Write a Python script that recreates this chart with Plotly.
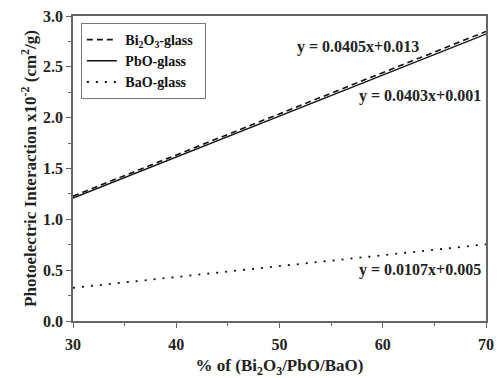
import plotly.graph_objects as go

x_vals = [30, 40, 50, 60, 70]
bi2o3 = [1.228, 1.633, 2.038, 2.443, 2.848]
pbo = [1.210, 1.613, 2.016, 2.419, 2.822]
bao = [0.326, 0.433, 0.540, 0.647, 0.754]
names = ["Bi<sub>2</sub>O<sub>3</sub>-glass", "PbO-glass", "BaO-glass"]
fits = ["y = 0.0405x+0.013", "y = 0.0403x+0.001", "y = 0.0107x+0.005"]

font = "Liberation Serif"
fig = go.Figure()
fig.add_trace(go.Scatter(x=x_vals, y=bi2o3, mode="lines", name=names[0],
                         line=dict(color="#111", width=1.6, dash="6px,4px")))
fig.add_trace(go.Scatter(x=x_vals, y=pbo, mode="lines", name=names[1],
                         line=dict(color="#111", width=1.4)))
fig.add_trace(go.Scatter(x=x_vals, y=bao, mode="lines", name=names[2],
                         line=dict(color="#111", width=1.8, dash="2px,7px")))

ann_pos = [(57.6, 2.70), (63.6, 2.21), (63.6, 0.50)]
for (ax, ay), t in zip(ann_pos, fits):
    fig.add_annotation(x=ax, y=ay, text="<b>%s</b>" % t, showarrow=False,
                       font=dict(family=font, size=16, color="#222"))

axis_common = dict(showline=True, linecolor="#666", linewidth=1.5, mirror=True,
                   ticks="outside", ticklen=5, tickcolor="#666", tickwidth=1.2,
                   showgrid=False, zeroline=False, automargin=False,
                   tickfont=dict(family=font, size=16, color="#222"),
                   minor=dict(ticks="outside", ticklen=3, tickcolor="#666"))
fig.update_xaxes(range=[30, 70], dtick=10, minor_dtick=5, ticklabelstandoff=3,
                 title=dict(text="<b>% of (Bi<sub>2</sub>O<sub>3</sub>/PbO/BaO)</b>",
                            font=dict(family=font, size=17, color="#222"), standoff=16),
                 tickprefix="<b>", ticksuffix="</b>", **axis_common)
fig.update_yaxes(range=[0, 3.0], dtick=0.5, minor_dtick=0.25, tickformat=".1f",
                 title=dict(text="<b>Photoelectric Interaction x10<sup>-2</sup> (cm<sup>2</sup>/g)</b>",
                            font=dict(family=font, size=17, color="#222"), standoff=2),
                 tickprefix="<b>", ticksuffix="</b>", **axis_common)
fig.update_layout(
    width=499, height=378,
    margin=dict(l=73, r=13, t=16, b=57),
    plot_bgcolor="white", paper_bgcolor="white",
    legend=dict(x=0.019, y=0.977, xanchor="left", yanchor="top",
                bordercolor="#777", borderwidth=1, bgcolor="white",
                font=dict(family=font, size=14, color="#111"),
                tracegroupgap=0, itemwidth=30),
    showlegend=True,
)
fig.for_each_trace(lambda t: t.update(name="&nbsp;<b>%s</b>&nbsp;&nbsp;" % t.name))
fig.write_html("out.html")
